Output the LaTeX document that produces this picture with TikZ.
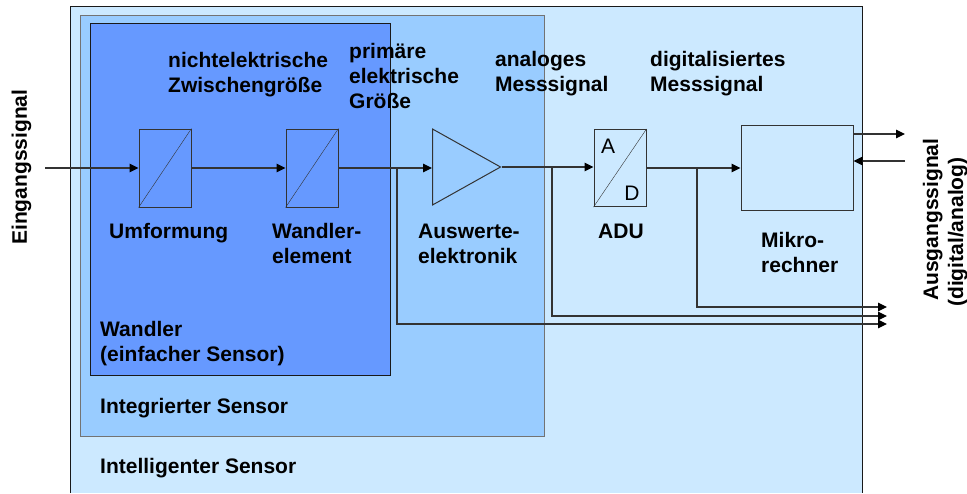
\documentclass[tikz,border=0pt]{standalone}
\usepackage{fontspec}
\setmainfont{Liberation Sans}
\usetikzlibrary{arrows.meta,shapes.geometric}

\definecolor{outerblue}{RGB}{204,233,255}
\definecolor{midblue}{RGB}{153,204,255}
\definecolor{darkblue}{RGB}{102,153,255}

\tikzset{
  lbl/.style={font=\fontsize{21}{25}\selectfont\bfseries, inner sep=0pt, align=left, anchor=base west},
  blk/.style={draw=black!80, line width=1pt, minimum width=52pt, minimum height=78pt, inner sep=0pt},
  sig/.style={draw=black!80, line width=1.2pt, -{Triangle[length=9pt,width=8.5pt,color=black]}},
}

\begin{document}
\begin{tikzpicture}[x=1pt,y=-1pt]
\useasboundingbox (0,0) rectangle (967,493);

% nested sensor levels
\fill[outerblue] (70,6) rectangle (862,493);
\draw[black!90, line width=0.8pt] (70,493) |- (862,6) -- (862,493);
\draw[fill=midblue, draw=black!55, line width=0.9pt] (80,15) rectangle (544,436);
\draw[fill=darkblue, draw=black!90, line width=0.8pt] (90,23) rectangle (390,375);

% blocks
\node[blk] (umf) at (165,168) {};
\draw[black!80] (umf.south west) -- (umf.north east);
\node[blk] (wdl) at (312,168) {};
\draw[black!80] (wdl.south west) -- (wdl.north east);
\node[draw=black!80, line width=1pt, isosceles triangle, isosceles triangle stretches,
      minimum width=76pt, minimum height=68pt, inner sep=0pt, anchor=west] (amp) at (432,167) {};
\node[blk, minimum height=77pt] (adu) at (620,168) {};
\draw[black!80] (adu.south west) -- (adu.north east);
\node[font=\fontsize{21}{24}\selectfont, inner sep=0pt] (adA) at (608,146) {A};
\node[font=\fontsize{21}{24}\selectfont, inner sep=0pt] (adD) at (632,193) {D};
\node[blk, minimum width=112pt, minimum height=85pt] (mc) at (797,168) {};

% signal path
\coordinate (ein) at (45,168);
\draw[sig] (ein) -- (umf);
\draw[sig] (umf) -- (wdl);
\draw[sig] (wdl) -- (amp.west |- wdl);
\draw[sig] (amp.apex) -- (adu.west |- amp.apex);
\draw[sig] (adu) -- (mc);

% taps to the outputs
\coordinate (t1) at (397,168);
\coordinate (o1) at (887,324);
\coordinate (t2) at (552,168);
\coordinate (o2) at (887,316);
\coordinate (t3) at (697,168);
\coordinate (o3) at (887,307);
\draw[sig] (t1) |- (o1);
\draw[sig] (t2) |- (o2);
\draw[sig] (t3) |- (o3);

% microcomputer i/o
\coordinate (aus) at (905,134);
\coordinate (rein) at (905,161);
\draw[sig] (mc.east |- aus) -- (aus);
\draw[sig] (rein) -- (mc.east |- rein);

% labels (base = last line)
\node[lbl] (zw) at (168,92) {nichtelektrische\\Zwischengröße};
\node[lbl] (prim) at (349,108) {primäre\\elektrische\\Größe};
\node[lbl] (ana) at (495,91) {analoges\\Messsignal};
\node[lbl] (dig) at (650,91) {digitalisiertes\\Messsignal};
\node[lbl] (umfT) at (109,238) {Umformung};
\node[lbl] (wdlT) at (272,263) {Wandler-\\element};
\node[lbl] (amplT) at (418,263) {Auswerte-\\elektronik};
\node[lbl] (aduT) at (598,238) {ADU};
\node[lbl] (mcT) at (761,272) {Mikro-\\rechner};
\node[lbl] (wandlerT) at (100,361) {Wandler\\(einfacher Sensor)};
\node[lbl] (integT) at (100,413) {Integrierter Sensor};
\node[lbl] (intelT) at (100,473) {Intelligenter Sensor};

\node[lbl, rotate=90] (einT) at (27,245) {Eingangssignal};
\node[lbl, rotate=90] (ausT) at (938,301) {Ausgangssignal};
\node[lbl, rotate=90] (ausT2) at (963,307) {(digital/analog)};

\end{tikzpicture}
\end{document}
